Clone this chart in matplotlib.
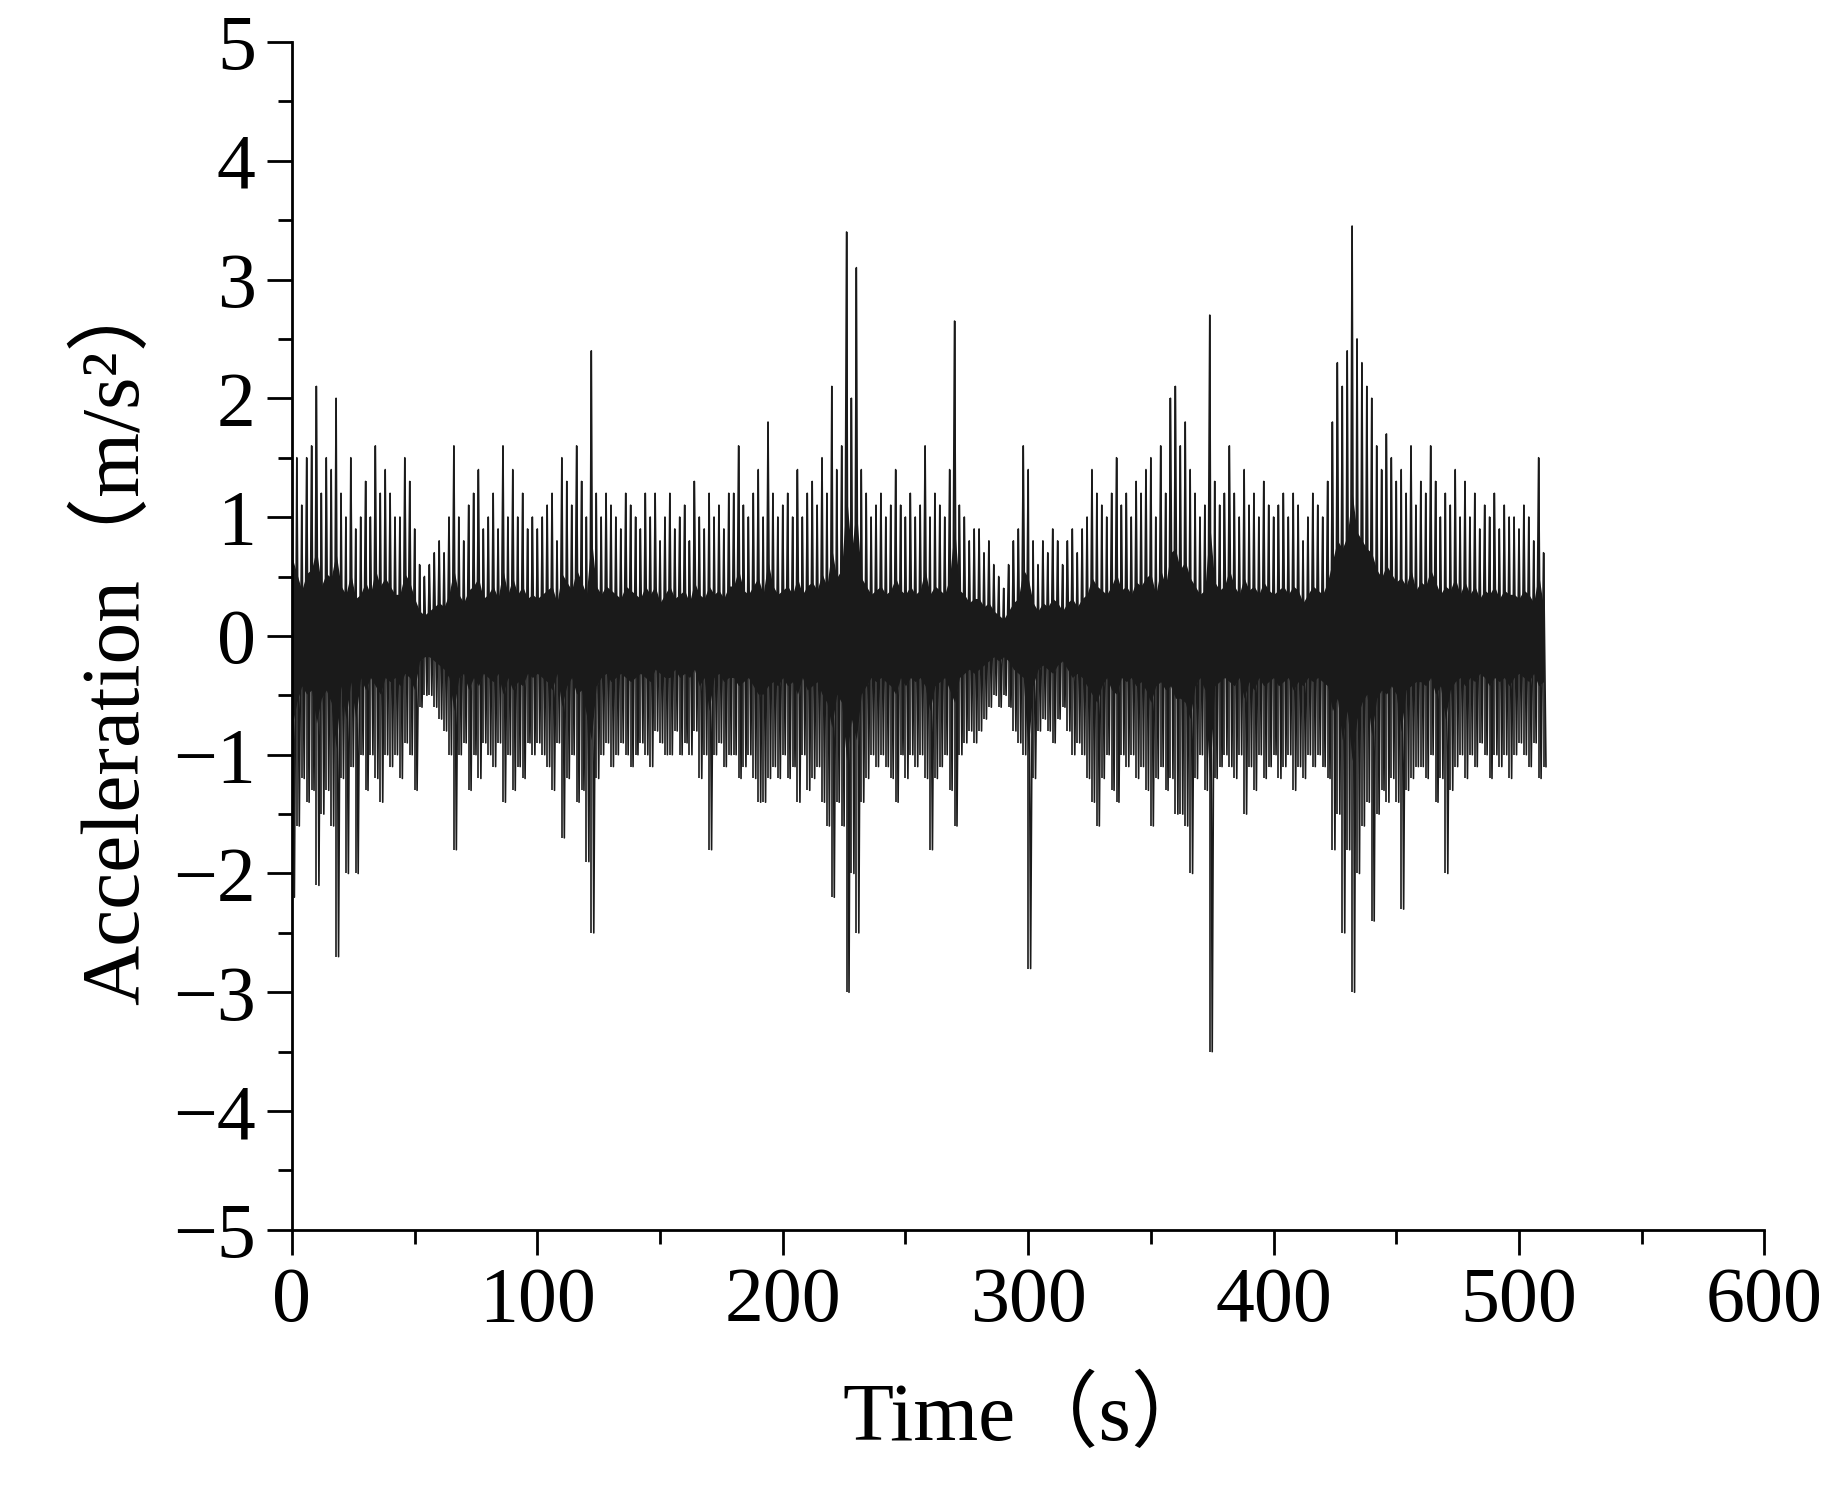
import numpy as np
import matplotlib
matplotlib.use("Agg")
import matplotlib.pyplot as plt
from matplotlib.ticker import MultipleLocator

upper = [1.9,1.5,1.1,1.5,1.6,2.1,1.2,1.5,1.4,2.0,
1.2,1.0,1.5,0.9,1.0,1.3,1.0,1.6,1.2,1.4,
1.2,1.0,1.0,1.5,1.3,0.9,0.6,0.5,0.6,0.7,
0.8,0.7,1.0,1.6,1.0,0.8,1.1,1.2,1.4,0.9,
1.0,1.2,0.9,1.6,1.0,1.4,1.0,1.2,0.9,1.0,
0.9,1.0,1.1,1.2,0.8,1.5,1.3,1.1,1.6,1.3,
1.0,2.4,1.2,1.0,1.2,1.1,1.0,0.9,1.2,1.1,
1.0,0.9,1.2,1.0,1.2,0.8,1.0,1.2,0.9,1.0,
1.1,0.8,1.3,1.0,0.9,1.2,1.0,1.1,0.9,1.2,
1.2,1.6,1.1,1.0,1.2,1.4,1.0,1.8,1.2,1.0,
1.1,1.2,1.0,1.4,1.0,1.2,1.3,1.1,1.5,1.2,
2.1,1.4,1.6,3.4,2.0,3.1,1.4,1.2,1.0,1.1,
1.2,1.0,1.1,1.4,1.1,1.0,1.2,1.0,1.1,1.6,
1.0,1.2,1.1,1.0,1.4,2.65,1.1,1.0,0.8,0.9,
0.9,0.7,0.8,0.6,0.5,0.4,0.6,0.8,0.9,1.6,
1.4,0.8,0.6,0.8,0.7,0.9,0.8,0.6,0.8,0.9,
0.7,0.9,1.0,1.4,1.2,1.1,1.0,1.2,1.5,1.1,
1.2,1.0,1.3,1.2,1.4,1.5,1.0,1.6,1.2,2.0,
2.1,1.6,1.8,1.4,1.2,1.0,1.1,2.7,1.3,1.1,
1.2,1.6,1.2,1.0,1.4,1.1,1.2,1.0,1.3,1.1,
1.0,1.1,1.2,1.0,1.2,1.1,0.8,1.0,1.2,1.1,
1.0,1.3,1.8,2.3,2.1,2.4,3.45,2.5,2.3,2.1,
2.0,1.6,1.4,1.7,1.5,1.3,1.4,1.2,1.6,1.1,
1.3,1.2,1.6,1.3,1.0,1.2,1.1,1.4,1.0,1.3,
1.0,1.2,0.9,1.1,1.0,1.2,0.9,1.1,1.0,1.0,
0.9,1.1,1.0,0.8,1.5,0.7]

lower = [-2.2,-1.6,-1.2,-1.4,-1.3,-2.1,-1.5,-1.3,-1.6,-2.7,
-1.2,-2.0,-1.1,-2.0,-1.0,-1.3,-1.0,-1.2,-1.4,-1.0,
-1.1,-1.0,-1.2,-0.9,-1.0,-1.3,-0.6,-0.5,-0.5,-0.6,
-0.7,-0.8,-1.0,-1.8,-1.0,-0.9,-1.3,-1.0,-1.2,-0.9,
-1.0,-1.1,-0.9,-1.4,-1.0,-1.3,-1.1,-1.2,-0.9,-1.0,
-0.9,-1.0,-1.1,-1.3,-0.9,-1.7,-1.2,-1.0,-1.4,-1.3,
-1.9,-2.5,-1.2,-1.0,-0.9,-1.1,-1.0,-0.9,-1.0,-1.1,
-1.0,-0.9,-1.0,-1.1,-0.8,-0.9,-1.0,-1.0,-0.8,-1.0,
-0.9,-1.0,-0.8,-1.2,-1.0,-1.8,-1.0,-0.9,-1.1,-1.0,
-1.0,-1.2,-1.1,-1.0,-1.2,-1.4,-1.4,-1.2,-1.1,-1.2,
-1.0,-1.2,-1.1,-1.4,-1.0,-1.3,-1.2,-1.1,-1.4,-1.6,
-2.2,-1.4,-1.6,-3.0,-2.0,-2.5,-1.4,-1.2,-1.0,-1.1,
-1.0,-1.1,-1.2,-1.4,-1.0,-1.2,-1.0,-1.1,-1.0,-1.2,
-1.8,-1.2,-1.1,-1.0,-1.3,-1.6,-1.0,-0.9,-0.8,-0.9,
-0.8,-0.7,-0.6,-0.5,-0.6,-0.5,-0.6,-0.8,-0.9,-1.0,
-2.8,-1.2,-0.8,-0.7,-0.8,-0.9,-0.7,-0.6,-0.8,-1.0,
-0.9,-1.0,-1.2,-1.4,-1.6,-1.2,-1.0,-1.3,-1.4,-1.0,
-1.1,-1.0,-1.2,-1.1,-1.3,-1.6,-1.2,-1.1,-1.3,-1.2,
-1.5,-1.5,-1.6,-2.0,-1.2,-1.0,-1.3,-3.5,-1.2,-1.1,
-1.0,-1.1,-1.2,-1.0,-1.5,-1.1,-1.3,-1.0,-1.2,-1.1,
-1.0,-1.2,-1.1,-1.0,-1.3,-1.1,-1.2,-1.0,-1.1,-1.0,
-1.1,-1.2,-1.8,-1.5,-2.5,-1.8,-3.0,-2.0,-1.6,-1.4,
-2.4,-1.5,-1.3,-1.4,-1.2,-1.4,-2.3,-1.3,-1.2,-1.1,
-1.1,-1.2,-1.0,-1.4,-1.2,-2.0,-1.3,-1.1,-1.0,-1.2,
-1.0,-1.1,-0.9,-1.0,-1.2,-1.0,-1.1,-1.0,-1.2,-1.0,
-0.9,-1.0,-1.1,-0.9,-1.2,-1.1]

n = min(len(upper), len(lower))
up = np.array(upper[:n]); lo = np.array(lower[:n])
t = np.arange(n) * 2.0

plt.rcParams['font.family'] = ['Liberation Serif', 'Noto Sans CJK SC']
fig = plt.figure(figsize=(18.36, 14.98), dpi=100)
ax = fig.add_axes([0.159, 0.179, 0.802, 0.793])

ax.fill_between(t, 0.35 * lo, 0.35 * up, color='#1a1a1a', lw=0)
ax.vlines(t, lo, up, color='#1a1a1a', lw=1.2)
zx = np.empty(2 * n); zy = np.empty(2 * n)
zx[0::2] = t; zx[1::2] = t + 1.0
zy[0::2] = up; zy[1::2] = lo
ax.plot(zx, zy, color='#1a1a1a', lw=1.2)

ax.set_xlim(0, 600)
ax.set_ylim(-5, 5)
ax.xaxis.set_major_locator(MultipleLocator(100))
ax.xaxis.set_minor_locator(MultipleLocator(50))
ax.yaxis.set_major_locator(MultipleLocator(1))
ax.yaxis.set_minor_locator(MultipleLocator(0.5))
for s in ['top', 'right']:
    ax.spines[s].set_visible(False)
for s in ['left', 'bottom']:
    ax.spines[s].set_linewidth(2)
ax.tick_params(which='major', length=18, width=2, labelsize=56, direction='out', pad=8)
ax.tick_params(which='minor', length=10, width=2, direction='out')
ax.set_xlabel('Time（s）', fontsize=60, labelpad=30)
ax.set_ylabel('Acceleration（m/s²）', fontsize=60, labelpad=12)
fig.savefig('out.png', dpi=100, facecolor='white')
